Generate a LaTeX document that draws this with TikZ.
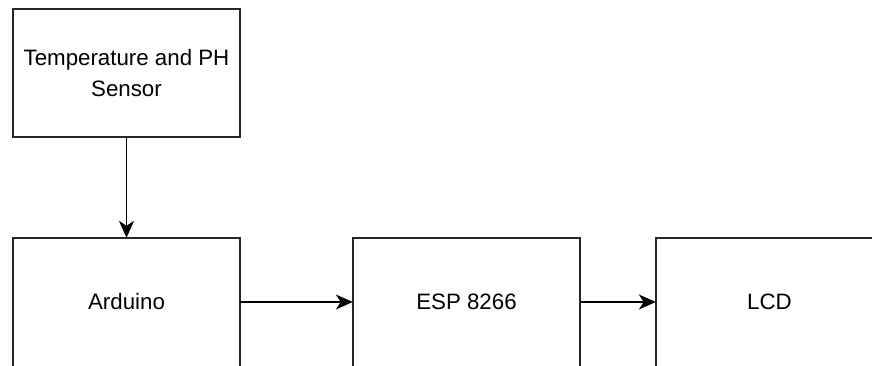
\documentclass[tikz,border=0pt]{standalone}
\usepackage{fontspec}
\setmainfont{Liberation Sans}
\usetikzlibrary{arrows.meta}
\begin{document}
\begin{tikzpicture}[x=1pt,y=-1pt,
  blk/.style={minimum width=227pt,minimum height=128pt,inner sep=0pt,align=center,font=\fontsize{22.3}{31.5}\selectfont},
  boxline/.style={draw=black!85,line width=1.9pt},
  conn/.style={draw=black,line width=1.4pt,-{Stealth[length=17pt,width=15pt,inset=5pt]}}]
\useasboundingbox (0,0) rectangle (872,365);
\clip (0,0) rectangle (872,365);
\node[blk,boxline] (temp) at (126.5,73) {Temperature and PH\\Sensor};
\node[blk] (ard) at (126.5,302) {Arduino};
\node[blk] (esp) at (466.5,302) {ESP 8266};
\node[blk] (lcd) at (769.5,302) {LCD};
\draw[boxline] (ard.north west) rectangle ([yshift=-20pt]ard.south east);
\draw[boxline] (esp.north west) rectangle ([yshift=-20pt]esp.south east);
\draw[boxline] (lcd.north west) rectangle ([xshift=40pt,yshift=-20pt]lcd.south east);
\draw[conn] (temp) -- (ard);
\draw[conn] (ard) -- (esp);
\draw[conn] (esp) -- (lcd);
\end{tikzpicture}
\end{document}
